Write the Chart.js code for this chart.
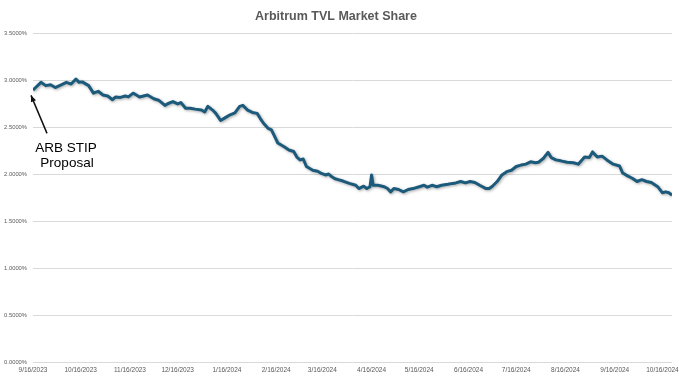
<!DOCTYPE html>
<html lang="en">
<head>
    <meta charset="UTF-8">
    <title>Arbitrum TVL Market Share</title>
    <style>
        html, body { margin: 0; padding: 0; background: #ffffff; }
        #wrap { width: 679px; height: 377px; }
    </style>
</head>
<body>
    <div id="wrap"><canvas id="shareChart" width="679" height="377"></canvas></div>

    <script src="https://cdn.jsdelivr.net/npm/chart.js"></script>
    <script>
        // days since 9/16/2023
        const dayOffsets = [0, 1, 5, 8, 11, 14, 18, 21, 24, 27, 29, 31, 35, 38, 41, 44, 47, 50, 52, 55, 58, 60, 63, 65, 67, 72, 76, 79, 83, 85, 88, 91, 93, 96, 99, 102, 106, 108, 110, 113, 115, 118, 121, 124, 127, 130, 132, 135, 138, 141, 143, 145, 148, 150, 152, 154, 158, 161, 164, 166, 168, 170, 172, 176, 179, 181, 184, 186, 188, 190, 192, 195, 199, 203, 205, 208, 210, 212, 213, 214, 217, 221, 223, 225, 227, 230, 233, 236, 239, 243, 246, 248, 251, 254, 257, 261, 264, 266, 269, 272, 275, 278, 281, 285, 287, 289, 292, 295, 298, 301, 304, 307, 310, 313, 316, 318, 321, 324, 326, 329, 332, 336, 340, 343, 347, 350, 352, 355, 358, 361, 365, 369, 371, 374, 377, 380, 383, 386, 389, 393, 396, 398, 400, 402];

        // Arbitrum share of TVL, in %
        const tvlShare = [2.89, 2.91, 2.975, 2.94, 2.95, 2.92, 2.95, 2.975, 2.957, 3.01, 2.975, 2.98, 2.94, 2.86, 2.88, 2.84, 2.83, 2.79, 2.82, 2.815, 2.83, 2.82, 2.86, 2.84, 2.82, 2.84, 2.80, 2.785, 2.73, 2.75, 2.77, 2.745, 2.76, 2.70, 2.70, 2.69, 2.68, 2.66, 2.72, 2.68, 2.645, 2.57, 2.60, 2.63, 2.65, 2.72, 2.73, 2.68, 2.655, 2.645, 2.59, 2.54, 2.485, 2.47, 2.40, 2.33, 2.29, 2.255, 2.24, 2.18, 2.15, 2.16, 2.08, 2.04, 2.03, 2.01, 1.99, 2.00, 1.97, 1.95, 1.94, 1.925, 1.90, 1.88, 1.845, 1.87, 1.845, 1.865, 1.99, 1.88, 1.88, 1.865, 1.845, 1.81, 1.845, 1.835, 1.81, 1.835, 1.845, 1.865, 1.88, 1.86, 1.88, 1.865, 1.88, 1.89, 1.90, 1.905, 1.92, 1.905, 1.92, 1.91, 1.88, 1.845, 1.845, 1.87, 1.92, 1.99, 2.025, 2.04, 2.08, 2.095, 2.105, 2.13, 2.12, 2.125, 2.165, 2.23, 2.175, 2.15, 2.14, 2.125, 2.12, 2.105, 2.18, 2.175, 2.235, 2.18, 2.19, 2.15, 2.105, 2.085, 2.01, 1.98, 1.955, 1.92, 1.94, 1.92, 1.91, 1.865, 1.80, 1.81, 1.80, 1.775];

        const xTickLabels = ['9/16/2023', '10/16/2023', '11/16/2023', '12/16/2023', '1/16/2024', '2/16/2024', '3/16/2024', '4/16/2024', '5/16/2024', '6/16/2024', '7/16/2024', '8/16/2024', '9/16/2024', '10/16/2024'];

        const noteLines = ['ARB STIP', 'Proposal'];

        const startDate = Date.UTC(2023, 8, 16);
        function labelToDay(lbl) {
            const p = lbl.split('/').map(Number);
            return Math.round((Date.UTC(p[2], p[0] - 1, p[1]) - startDate) / 86400000);
        }
        const tickDays = xTickLabels.map(labelToDay);

        const points = dayOffsets.map((d, i) => ({ x: d, y: tvlShare[i] }));

        // soft shadow under the line, like the spreadsheet original
        const lineShadow = {
            id: 'lineShadow',
            beforeDatasetsDraw(chart) {
                const ctx = chart.ctx;
                ctx.save();
                ctx.shadowColor = 'rgba(0,0,0,0.35)';
                ctx.shadowBlur = 3;
                ctx.shadowOffsetX = 1;
                ctx.shadowOffsetY = 1;
            },
            afterDatasetsDraw(chart) {
                chart.ctx.restore();
            }
        };

        // arrow + note pointing at the first point
        const stipNote = {
            id: 'stipNote',
            afterDraw(chart) {
                const ctx = chart.ctx;
                const xs = chart.scales.x, ys = chart.scales.y;
                const ax = xs.getPixelForValue(dayOffsets[0]);
                const ay = ys.getPixelForValue(tvlShare[0]);
                const tipX = ax - 2, tipY = ay + 5;
                const tailX = ax + 14, tailY = ay + 43;
                ctx.save();
                ctx.strokeStyle = '#111';
                ctx.fillStyle = '#111';
                ctx.lineWidth = 1.5;
                ctx.beginPath();
                ctx.moveTo(tailX, tailY);
                ctx.lineTo(tipX, tipY);
                ctx.stroke();
                const ang = Math.atan2(tipY - tailY, tipX - tailX);
                ctx.beginPath();
                ctx.moveTo(tipX, tipY);
                ctx.lineTo(tipX - 7 * Math.cos(ang - 0.4), tipY - 7 * Math.sin(ang - 0.4));
                ctx.lineTo(tipX - 7 * Math.cos(ang + 0.4), tipY - 7 * Math.sin(ang + 0.4));
                ctx.closePath();
                ctx.fill();
                ctx.font = '13.5px "Liberation Sans", Arial, sans-serif';
                ctx.textAlign = 'center';
                ctx.textBaseline = 'middle';
                ctx.fillStyle = '#000';
                ctx.fillText(noteLines[0], ax + 33, ay + 58);
                ctx.fillText(noteLines[1], ax + 34, ay + 73);
                ctx.restore();
            }
        };

        const ctx1 = document.getElementById('shareChart').getContext('2d');
        new Chart(ctx1, {
            type: 'line',
            data: {
                datasets: [{
                    label: 'Arbitrum TVL Market Share',
                    data: points,
                    borderColor: '#1c5a7b',
                    borderWidth: 3,
                    pointRadius: 0,
                    tension: 0,
                    borderJoinStyle: 'round',
                    fill: false
                }]
            },
            options: {
                responsive: false,
                animation: false,
                layout: { padding: { top: 0, right: 7, left: 0, bottom: 0 } },
                plugins: {
                    legend: { display: false },
                    tooltip: { enabled: false },
                    title: {
                        display: true,
                        text: 'Arbitrum TVL Market Share',
                        color: '#595959',
                        font: { family: '"Liberation Sans", Arial, sans-serif', size: 12.5, weight: 'bold' },
                        padding: { top: 9, bottom: 9 }
                    }
                },
                scales: {
                    x: {
                        type: 'linear',
                        min: 0,
                        max: dayOffsets[dayOffsets.length - 1],
                        afterBuildTicks(scale) {
                            scale.ticks = tickDays.map(v => ({ value: v }));
                        },
                        afterFit(scale) {
                            scale.height = 15;
                            scale.paddingLeft = 0;
                            scale.paddingRight = 0;
                        },
                        grid: { display: false, drawTicks: false },
                        border: { display: false },
                        ticks: {
                            autoSkip: false,
                            maxRotation: 0,
                            padding: 4,
                            color: '#595959',
                            font: { family: '"Liberation Sans", Arial, sans-serif', size: 6.5 },
                            callback: (v) => xTickLabels[tickDays.indexOf(v)]
                        }
                    },
                    y: {
                        min: 0,
                        max: 3.5,
                        afterFit(scale) { scale.width = 33; },
                        grid: { color: '#d9d9d9', lineWidth: 1, drawTicks: false },
                        border: { display: false },
                        ticks: {
                            stepSize: 0.5,
                            padding: 6,
                            color: '#595959',
                            font: { family: '"Liberation Sans", Arial, sans-serif', size: 5.8 },
                            callback: (v) => v.toFixed(4) + '%'
                        }
                    }
                }
            },
            plugins: [lineShadow, stipNote]
        });
    </script>
</body>
</html>
